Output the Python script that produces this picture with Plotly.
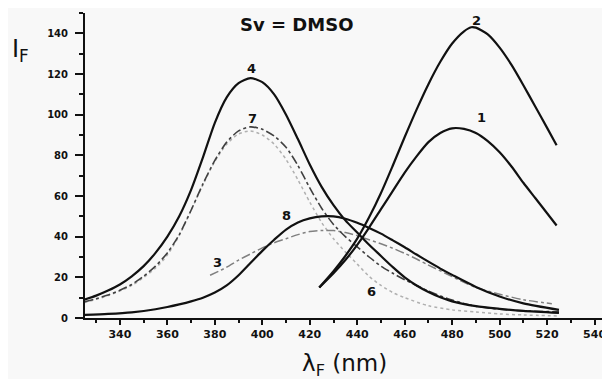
import plotly.graph_objects as go

# ---- data ----
x4 = [325, 330, 335, 340, 345, 350, 355, 360, 365, 370, 375, 380, 385, 390, 395, 400, 405, 410, 415, 420, 425, 430, 435, 440, 445, 450, 455, 460, 465, 470, 475, 480, 490, 500, 510, 525]
y4 = [9, 11, 13.5, 16.5, 20.5, 25.5, 32, 40, 50, 63, 79, 96, 108.5, 115.5, 118, 116, 110, 100, 88, 75.5, 64.5, 55.5, 48, 42, 36, 30.5, 25, 20, 16, 12.8, 10.2, 8.2, 5.8, 4.5, 3.5, 2.5]

x7 = [325, 330, 335, 340, 345, 350, 355, 360, 365, 370, 375, 380, 385, 390, 395, 400, 405, 410, 415, 420, 425, 430, 435, 440, 445, 450, 455, 460, 465, 470, 480, 490, 500, 510, 525]
y7 = [8, 9.5, 11.3, 13.6, 16.5, 20.5, 25.5, 32, 41, 53, 66, 77.5, 86.5, 92, 94, 92.8, 89.5, 84, 75, 64, 54, 46, 40, 35, 30, 25.5, 22, 18.8, 16, 13.2, 8.8, 5.8, 4.3, 3.5, 3]

x6 = [325, 335, 345, 355, 360, 365, 370, 375, 380, 385, 390, 395, 400, 405, 410, 415, 420, 425, 430, 435, 440, 445, 450, 455, 460, 470, 480, 490, 500, 510, 525]
y6 = [7.5, 11, 16, 24.5, 31, 40.5, 53, 65.5, 77, 85.5, 90.5, 92, 90, 85.5, 78, 68, 57, 47, 39, 32.5, 26.5, 20.5, 16, 12.5, 10, 6, 4, 3, 2, 1.5, 1]

x8 = [325, 335, 345, 355, 360, 365, 370, 375, 380, 385, 390, 395, 400, 405, 410, 415, 420, 425, 430, 435, 440, 445, 450, 455, 460, 465, 470, 475, 480, 490, 500, 510, 525]
y8 = [1.5, 2, 2.8, 4.3, 5.4, 6.7, 8.2, 10, 12.5, 16, 21, 27, 33, 38.5, 43.5, 47, 49, 50, 50, 48.8, 46.8, 44.3, 41.5, 38.2, 34.8, 31.2, 27.7, 24.3, 21.2, 15.3, 10.6, 7.2, 4]

x3 = [378, 385, 390, 395, 400, 405, 410, 415, 420, 425, 430, 435, 440, 445, 450, 455, 460, 465, 470, 478, 485, 490, 500, 510, 522]
y3 = [21, 25, 28.5, 31.5, 34.5, 37, 39, 41, 42.5, 43, 43, 42, 40.5, 38.5, 36.5, 34.3, 31.8, 29, 26, 21.5, 17.5, 15, 11.7, 9, 7]

x2 = [424, 430, 435, 440, 445, 450, 455, 460, 465, 470, 475, 480, 485, 488, 490, 495, 500, 505, 510, 515, 520, 524]
y2 = [15, 23, 30.5, 39, 49.5, 61.5, 75, 89, 102.5, 115, 126, 135, 141, 143, 142.8, 139.5, 133, 124.5, 114.5, 104, 93.5, 85]

x1 = [424, 430, 435, 440, 445, 450, 455, 460, 465, 470, 475, 480, 485, 490, 495, 500, 505, 510, 515, 520, 524]
y1 = [15, 22, 28.5, 36, 44.5, 53.5, 62.5, 71.5, 79.5, 86.5, 91, 93.3, 93, 91, 87, 81.5, 74.5, 66.5, 59, 51.5, 45.5]

curve_labels = ["1", "2", "3", "4", "6", "7", "8"]
label_x = [492.4, 490.3, 381.3, 395.6, 446, 396, 410.3]
label_y = [98.7, 146.4, 27.5, 122.8, 12.8, 98.2, 50.6]

x_ticks = [340, 360, 380, 400, 420, 440, 460, 480, 500, 520, 540]
y_ticks = [0, 20, 40, 60, 80, 100, 120, 140]

FONT = "DejaVu Sans"
INK = "#111111"

fig = go.Figure()


def add(x, y, color, width, dash):
    fig.add_trace(go.Scatter(
        x=x, y=y, mode="lines",
        line=dict(color=color, width=width, dash=dash, shape="spline", smoothing=0.7),
        showlegend=False, hoverinfo="skip"))


add(x6, y6, "#b0b0b0", 1.5, "dot")
add(x3, y3, "#808080", 1.5, "dashdot")
add(x7, y7, "#404040", 1.6, "dashdot")
add(x8, y8, INK, 2.2, "solid")
add(x4, y4, INK, 2.2, "solid")
add(x1, y1, INK, 2.2, "solid")
add(x2, y2, INK, 2.2, "solid")

for t, xx, yy in zip(curve_labels, label_x, label_y):
    fig.add_annotation(x=xx, y=yy, text=t, showarrow=False, xref="x", yref="y",
                       font=dict(family=FONT, size=13, color=INK, weight="bold"))

fig.add_annotation(x=414.3, y=144.5, text="Sv = DMSO", showarrow=False, xref="x", yref="y",
                   font=dict(family=FONT, size=18, color=INK, weight="bold"))

# axis titles
fig.add_annotation(x=-0.143, y=0.935, xref="paper", yref="paper", xanchor="left", yanchor="top",
                   text="I<sub>F</sub>", showarrow=False,
                   font=dict(family=FONT, size=24, color=INK))
fig.add_annotation(x=0.41, y=-0.097, xref="paper", yref="paper", xanchor="left", yanchor="top",
                   text="λ<sub>F</sub> (nm)", showarrow=False,
                   font=dict(family=FONT, size=23, color=INK))

# the page adds an 8 px body margin, so the figure is sized to fit the window
fig.update_layout(
    width=602, height=371,
    margin=dict(l=77, r=0, t=5, b=61),
    paper_bgcolor="#f8f8f8", plot_bgcolor="#f8f8f8",
    font=dict(family=FONT, color=INK),
)

fig.update_xaxes(range=[325.3, 546.5], tickvals=x_ticks, ticks="outside", ticklen=5, tickwidth=1.5,
                 tickcolor=INK, showline=True, linewidth=2, linecolor=INK, showgrid=False, zeroline=False,
                 tickfont=dict(family=FONT, size=11, color=INK, weight="bold"),
                 minor=dict(dtick=10, tick0=330, ticks="outside", ticklen=3, tickcolor=INK))
fig.update_yaxes(range=[0, 150], tickvals=y_ticks, ticks="outside", ticklen=8, tickwidth=1.5,
                 tickcolor=INK, showline=True, linewidth=2, linecolor=INK, showgrid=False, zeroline=False,
                 ticklabelstandoff=5,
                 tickfont=dict(family=FONT, size=10, color=INK, weight="bold"),
                 minor=dict(dtick=10, tick0=0, ticks="outside", ticklen=4, tickcolor=INK))

fig.write_html("out.html")
